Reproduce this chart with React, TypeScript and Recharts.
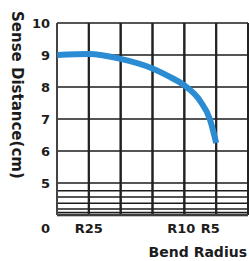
import { CartesianGrid, Line, LineChart, ReferenceLine, XAxis, YAxis } from "recharts";

// position along the bend axis (one grid column = 1) and sensing distance in cm
const positions = [0, 1, 2, 3, 3.5, 4, 4.5, 4.8, 5];
const distances = [9.0, 9.03, 8.88, 8.58, 8.34, 8.05, 7.56, 7.0, 6.25];

const gridCols = [0, 1, 2, 3, 4, 5, 6];
const radiusAt = [1, 4, 5];
const radiusLabels = ["R25", "R10", "R5"];

const distanceTicks = [4, 5, 6, 7, 8, 9, 10];
// the bottom band (0..5) is squeezed, drawn as closer lines
const gridRows = [4.08, 4.19, 4.37, 4.56, 4.76, 5, 6, 7, 8, 9, 10];

const data = positions.map((p, i) => ({ pos: p, distance: distances[i] }));

const font = "'DejaVu Sans', Arial, sans-serif";
const ink = "#1c1c1c";

function RadiusTick(props: any) {
  const { x, y, payload } = props;
  const i = radiusAt.indexOf(payload.value);
  if (i < 0) return null;
  // labels sit a little left of their grid line in the original
  const nudge = [0, -3, -6][i];
  return (
    <text
      x={x + nudge}
      y={y + 4.5}
      dy="0.355em"
      textAnchor="middle"
      fill={ink}
      fontFamily={font}
      fontWeight="bold"
      fontSize={13}
    >
      {radiusLabels[i]}
    </text>
  );
}

function DistanceTick(props: any) {
  const { x, y, payload } = props;
  const zero = payload.value === 4;
  return (
    <text
      x={x}
      y={zero ? y + 13 : y}
      dy="0.355em"
      textAnchor="end"
      fill={ink}
      fontFamily={font}
      fontWeight="bold"
      fontSize={13}
    >
      {zero ? "0" : payload.value}
    </text>
  );
}

const titleStyle = {
  position: "absolute" as const,
  fontFamily: font,
  fontWeight: "bold" as const,
  color: ink,
  whiteSpace: "nowrap" as const,
};

export default function App() {
  return (
    <div style={{ position: "absolute", left: 0, top: 0, width: 249, height: 261, background: "#fff" }}>
      <LineChart width={249} height={261} data={data} margin={{ top: 23, right: 1, bottom: 26, left: 0 }}>
        <CartesianGrid stroke="#222" strokeWidth={2} horizontal={false} />
        <XAxis
          type="number"
          dataKey="pos"
          domain={[0, 6]}
          ticks={gridCols}
          height={20}
          tickSize={0}
          tickMargin={9}
          tick={<RadiusTick />}
        />
        <YAxis
          type="number"
          domain={[4, 10]}
          ticks={distanceTicks}
          width={57}
          tickSize={0}
          tickMargin={7}
          tick={<DistanceTick />}
        />
        {gridRows.map((v) => (
          <ReferenceLine key={"r" + v} y={v} stroke={ink} strokeWidth={1.5} />
        ))}
        <ReferenceLine y={4} stroke="#111" strokeWidth={2.5} />
        {gridCols.map((v) => (
          <ReferenceLine key={"c" + v} x={v} stroke="#222" strokeWidth={2} />
        ))}
        <Line
          type="monotone"
          dataKey="distance"
          stroke="#2b8cd3"
          strokeWidth={6}
          dot={false}
          isAnimationActive={false}
        />
      </LineChart>
      <div
        style={{
          ...titleStyle,
          left: 9,
          top: 11,
          fontSize: 15,
          lineHeight: "16px",
          writingMode: "vertical-rl",
        }}
      >
        Sense Distance(cm)
      </div>
      <div style={{ ...titleStyle, left: 0, width: 247, top: 245, fontSize: 14, lineHeight: "14px", textAlign: "right" }}>
        Bend Radius
      </div>
    </div>
  );
}
